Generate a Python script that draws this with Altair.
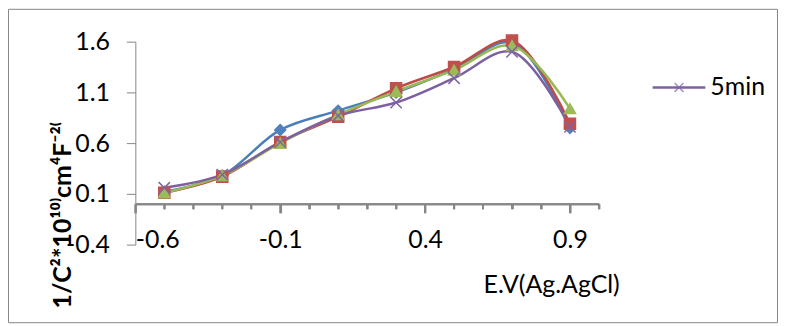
import altair as alt
import pandas as pd

# ---- data ----
potential = [-0.5, -0.3, -0.1, 0.1, 0.3, 0.5, 0.7, 0.9]
series_names = ["Series1", "Series2", "Series3", "5min"]
series1 = [0.12, 0.28, 0.73, 0.92, 1.10, 1.33, 1.59, 0.75]
series2 = [0.11, 0.27, 0.61, 0.86, 1.14, 1.35, 1.61, 0.79]
series3 = [0.11, 0.28, 0.60, 0.88, 1.11, 1.32, 1.56, 0.94]
series4 = [0.16, 0.29, 0.61, 0.87, 1.00, 1.24, 1.50, 0.76]
legend_labels = ["5min"]

x_major = [-0.6, -0.1, 0.4, 0.9]
x_minor = [-0.5, -0.4, -0.3, -0.2, 0.0, 0.1, 0.2, 0.3, 0.5, 0.6, 0.7, 0.8, 1.0]
y_ticks = [-0.4, 0.1, 0.6, 1.1, 1.6]

line_colors = ["#4A7EBB", "#BE4B48", "#98B954", "#7D60A0"]
marker_fill = ["#4F81BD", "#C0504D", "#9BBB59", "transparent"]
marker_stroke = ["#4F81BD", "#C0504D", "#9BBB59", "#8064A2"]
XPATH = "M-1,-1L1,1M-1,1L1,-1"
marker_shapes = ["diamond", "square", "triangle-up", XPATH]
marker_sizes = [120, 130, 160, 80]

rows = []
for name, vals in zip(series_names, [series1, series2, series3, series4]):
    for e, v in zip(potential, vals):
        rows.append({"series": name, "marker": name, "E": e, "V": v})
df = pd.DataFrame(rows)
minor_df = pd.DataFrame({"t": x_minor})
tick_df = pd.DataFrame({"t": x_major + x_minor,
                        "major": [True] * len(x_major) + [False] * len(x_minor)})

FONT = "Lato"
FS = 25
GRAY = "#868686"
label_expr = "(datum.value < 0 ? '-' : '') + format(abs(datum.value), '.1f')"

W, H = 466, 204
xscale = alt.Scale(domain=[-0.6, 1.0], nice=False, zero=False)
yscale = alt.Scale(domain=[-0.4, 1.6], nice=False, zero=False)
CROSS = -round(H * 0.4 / 2.0)      # axis offset that puts the horizontal axis on y = 0
Y0 = H + CROSS + 0.5               # pixel row of that axis inside the plot

x_enc = alt.X(
    "E:Q", scale=xscale,
    axis=alt.Axis(values=x_major, orient="bottom", offset=CROSS, zindex=1,
                  domain=True, domainColor=GRAY, domainWidth=2,
                  ticks=True, tickSize=9, tickColor=GRAY, tickWidth=2, grid=False,
                  labelPadding=27, labelBaseline="middle", labelExpr=label_expr,
                  labelFont=FONT, labelFontSize=FS, labelColor="#000000",
                  title="E.V(Ag.AgCl)", titleX=418, titleY=81, titleAlign="center",
                  titleBaseline="middle", titleFont=FONT, titleFontSize=FS,
                  titleFontWeight="normal", titleColor="#000000"),
)
y_enc = alt.Y(
    "V:Q", scale=yscale,
    axis=alt.Axis(values=y_ticks, grid=False, tickSize=9, tickColor=GRAY, domainColor=GRAY,
                  zindex=1,
                  labelPadding=17, labelExpr=label_expr, labelFont=FONT, labelFontSize=FS,
                  labelColor="#000000",
                  title="1/C²*10¹⁰⁾cm⁴F⁻²⁽", titleAngle=-90, titleX=-73, titleY=174,
                  titleAlign="center", titleBaseline="middle", titleFont=FONT,
                  titleFontSize=25, titleFontWeight="bold", titleColor="#000000"),
)

frame = alt.Chart(pd.DataFrame({"frame": [0]})).mark_rect(
    fillOpacity=0, stroke=GRAY, strokeWidth=1
).encode(x=alt.value(-127.5), x2=alt.value(645.5), y=alt.value(-32.5), y2=alt.value(282.5))

minor_axis = alt.Chart(minor_df).mark_point(opacity=0).encode(
    x=alt.X("t:Q", scale=xscale,
            axis=alt.Axis(values=x_minor, orient="bottom", offset=CROSS, zindex=1,
                          domain=False, ticks=True, tickSize=5, tickColor=GRAY, tickWidth=2,
                          labels=False, grid=False, title=None)),
)

# horizontal axis line and tick marks also drawn as rules (crossing at y = 0)
axis_line = alt.Chart(pd.DataFrame({"axis": [0]})).mark_rule(color=GRAY, strokeWidth=2).encode(
    x=alt.value(0), x2=alt.value(W), y=alt.value(Y0))
major_ticks = alt.Chart(tick_df).transform_filter(alt.datum.major).mark_rule(
    color=GRAY, strokeWidth=2
).encode(x=alt.X("t:Q", scale=xscale, axis=None), y=alt.value(Y0), y2=alt.value(Y0 + 9))
minor_ticks = alt.Chart(tick_df).transform_filter(~alt.datum.major).mark_rule(
    color=GRAY, strokeWidth=2
).encode(x=alt.X("t:Q", scale=xscale, axis=None), y=alt.value(Y0), y2=alt.value(Y0 + 5))

base = alt.Chart(df)
lines = base.mark_line(interpolate="catmull-rom", strokeWidth=2.5).encode(
    x=x_enc, y=y_enc,
    color=alt.Color("series:N", scale=alt.Scale(domain=series_names, range=line_colors), legend=None),
    order="E:Q",
)
points = base.mark_point(filled=True, strokeWidth=1.5, opacity=1).encode(
    x=alt.X("E:Q", scale=xscale, axis=None), y=alt.Y("V:Q", scale=yscale),
    shape=alt.Shape("marker:N", scale=alt.Scale(domain=series_names, range=marker_shapes), legend=None),
    fill=alt.Fill("marker:N", scale=alt.Scale(domain=series_names, range=marker_fill), legend=None),
    stroke=alt.Stroke("marker:N", scale=alt.Scale(domain=series_names, range=marker_stroke), legend=None),
    size=alt.Size("marker:N", scale=alt.Scale(domain=series_names, range=marker_sizes), legend=None),
)

# legend (only the "5min" entry is visible in the reference)
leg = alt.Chart(pd.DataFrame({"label": legend_labels}))
leg_line = leg.mark_rule(color="#7D60A0", strokeWidth=2.5).encode(
    x=alt.value(520), x2=alt.value(573), y=alt.value(46))
leg_mark = leg.mark_point(shape=XPATH, size=80, color="#8064A2", strokeWidth=1.5).encode(
    x=alt.value(546.5), y=alt.value(46))
leg_text = leg.mark_text(align="left", baseline="middle", font=FONT, fontSize=FS, color="#000000").encode(
    x=alt.value(578), y=alt.value(46), text="label:N")

chart = alt.layer(frame, minor_axis, axis_line, major_ticks, minor_ticks, lines, points,
                  leg_line, leg_mark, leg_text).resolve_axis(
    x="independent"
).properties(
    width=W, height=H,
    autosize=alt.AutoSizeParams(type="none"),
    padding={"left": 128, "top": 33, "right": 180, "bottom": 80},
    background="white",
).configure_view(stroke=None)

chart.save("out.html", embed_options={"renderer": "svg", "actions": False})
